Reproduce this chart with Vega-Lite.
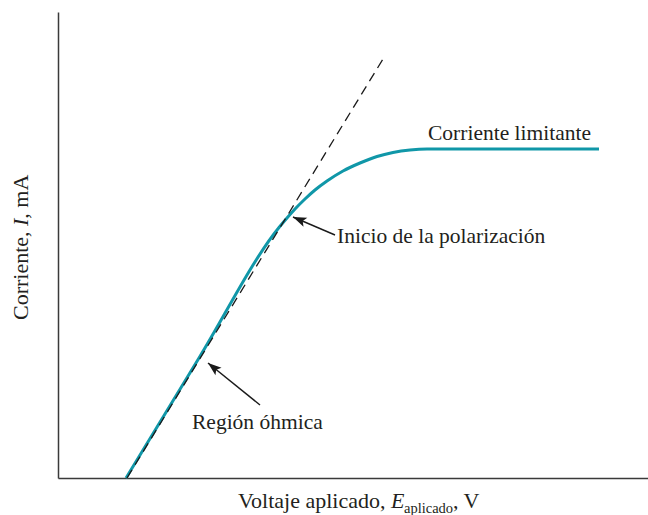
{
  "$schema": "https://vega.github.io/schema/vega-lite/v6.json",
  "width": 590,
  "height": 466,
  "autosize": "none",
  "padding": {"left": 58, "top": 12, "right": 0, "bottom": 37},
  "background": "white",
  "config": {
    "view": {"stroke": null},
    "axis": {"grid": false, "ticks": false, "labels": false, "title": null, "domainColor": "#3a3a3a", "domainWidth": 1.5},
    "text": {"font": "Liberation Serif", "color": "#231f20"}
  },
  "datasets": {
    "curve": [
      {"x": 68, "y": 0},
      {"x": 141, "y": 120},
      {"x": 221, "y": 250.5},
      {"x": 229, "y": 260},
      {"x": 237, "y": 269},
      {"x": 247, "y": 279},
      {"x": 257, "y": 288},
      {"x": 269, "y": 297},
      {"x": 285, "y": 307},
      {"x": 302, "y": 315},
      {"x": 319, "y": 321.5},
      {"x": 335, "y": 325.5},
      {"x": 352, "y": 328},
      {"x": 369, "y": 329},
      {"x": 541, "y": 329}
    ],
    "dashed": [
      {"x": 69, "y": 0},
      {"x": 325, "y": 419}
    ],
    "arrows": [
      {"name": "inicio", "x": 235, "y": 261, "x2": 277, "y2": 243},
      {"name": "ohmica", "x": 150, "y": 115, "x2": 202, "y2": 73}
    ],
    "labels": [
      {"x": 370, "y": 338, "text": "Corriente limitante"},
      {"x": 279, "y": 235, "text": "Inicio de la polarización"},
      {"x": 134, "y": 49, "text": "Región óhmica"}
    ]
  },
  "encoding": {
    "x": {"field": "x", "type": "quantitative", "scale": {"domain": [0, 590]}, "axis": {"orient": "bottom"}},
    "y": {"field": "y", "type": "quantitative", "scale": {"domain": [0, 466]}, "axis": {"orient": "left"}}
  },
  "layer": [
    {
      "data": {"name": "curve"},
      "mark": {"type": "line", "color": "#1097a8", "strokeWidth": 3, "interpolate": "monotone"}
    },
    {
      "data": {"name": "dashed"},
      "mark": {"type": "line", "color": "#1a1a1a", "strokeWidth": 1.3, "strokeDash": [9.5, 6]}
    },
    {
      "data": {"name": "arrows"},
      "mark": {"type": "rule", "color": "#1a1a1a", "strokeWidth": 1.4},
      "encoding": {"x2": {"field": "x2"}, "y2": {"field": "y2"}}
    },
    {
      "data": {"name": "arrows"},
      "transform": [{"filter": "datum.name === 'inicio'"}],
      "mark": {"type": "point", "filled": true, "opacity": 1, "color": "#1a1a1a", "shape": "M0,0 L-1,-0.36 L-0.78,0 L-1,0.36 Z", "size": 729, "angle": 203}
    },
    {
      "data": {"name": "arrows"},
      "transform": [{"filter": "datum.name === 'ohmica'"}],
      "mark": {"type": "point", "filled": true, "opacity": 1, "color": "#1a1a1a", "shape": "M0,0 L-1,-0.36 L-0.78,0 L-1,0.36 Z", "size": 729, "angle": 219}
    },
    {
      "data": {"name": "labels"},
      "mark": {"type": "text", "align": "left", "baseline": "alphabetic", "fontSize": 21.5},
      "encoding": {"text": {"field": "text"}}
    },
    {
      "data": {"values": [
        {"x": 180, "y": -30, "text": "Voltaje aplicado,"},
        {"x": 395, "y": -30, "text": ", V"}
      ]},
      "mark": {"type": "text", "align": "left", "baseline": "alphabetic", "fontSize": 22},
      "encoding": {"text": {"field": "text"}}
    },
    {
      "data": {"values": [{"x": 333, "y": -30, "text": "E"}]},
      "mark": {"type": "text", "align": "left", "baseline": "alphabetic", "fontSize": 22, "fontStyle": "italic"},
      "encoding": {"text": {"field": "text"}}
    },
    {
      "data": {"values": [{"x": 346, "y": -35, "text": "aplicado"}]},
      "mark": {"type": "text", "align": "left", "baseline": "alphabetic", "fontSize": 14.5},
      "encoding": {"text": {"field": "text"}}
    },
    {
      "data": {"values": [
        {"x": -30, "y": 158, "text": "Corriente,"},
        {"x": -30, "y": 259.3, "text": ", mA"}
      ]},
      "mark": {"type": "text", "align": "left", "baseline": "alphabetic", "fontSize": 22, "angle": 270},
      "encoding": {"text": {"field": "text"}}
    },
    {
      "data": {"values": [{"x": -30, "y": 252, "text": "I"}]},
      "mark": {"type": "text", "align": "left", "baseline": "alphabetic", "fontSize": 22, "angle": 270, "fontStyle": "italic"},
      "encoding": {"text": {"field": "text"}}
    }
  ]
}
